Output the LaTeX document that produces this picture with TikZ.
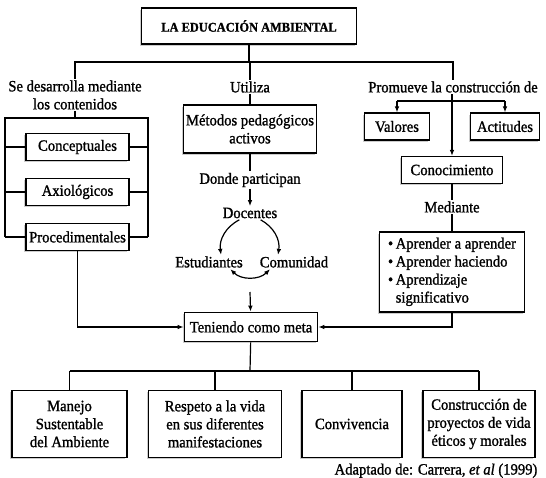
\documentclass[tikz,border=0pt]{standalone}
\usepackage{fontspec}
\setmainfont{Liberation Serif}[FakeStretch=0.93, FakeBold=1.2]
\usetikzlibrary{arrows.meta,positioning,shadows}

\begin{document}
\begin{tikzpicture}[x=0.75pt,y=-0.75pt,
  font=\fontsize{11.8}{13.5}\selectfont,
  box/.style={draw, line width=1.1pt, fill=white, align=center, inner sep=0pt,
    drop shadow={shadow xshift=-1.3pt, shadow yshift=-1.3pt, fill=black!40, opacity=0.5}},
  lbl/.style={align=center, inner sep=1pt},
  link/.style={line width=0.9pt},
  arr/.style={link, -{Latex[length=4.5pt,width=3.5pt]}}]
\useasboundingbox (0,0) rectangle (546,478);

% Title
\node[box, minimum width=161pt, minimum height=27pt, font=\fontsize{10}{11}\selectfont\bfseries] (title) at (249,26) {LA EDUCACIÓN AMBIENTAL};

% First level labels
\node[lbl] (desarrolla) at (75,95) {Se desarrolla mediante\\los contenidos};
\node[lbl] (utiliza) at (250,87) {Utiliza};
\node[lbl] (promueve) at (453,87) {Promueve la construcción de};
\coordinate (top) at (249,62);
\draw[link] (title) -- (top);
\draw[link] (desarrolla.north) |- (top) -| (promueve.north);
\draw[link] (utiliza) -- (utiliza.north |- top);

% Contents (left)
\node[box, minimum width=77pt, minimum height=20pt] (concep) at (77.5,147) {Conceptuales};
\node[box, minimum width=77pt, minimum height=20pt] (axio) at (77.5,192) {Axiológicos};
\node[box, minimum width=77pt, minimum height=20pt] (proc) at (77.5,237) {Procedimentales};
\coordinate (bl) at (5,118);
\coordinate (br) at (148,118);
\draw[link] (desarrolla.south) -- (desarrolla.south |- bl);
\draw[link] (proc.west -| bl) -- (bl) -- (br) -- (proc.east -| br);
\foreach \n in {concep,axio,proc} {
  \draw[link] (\n.west) -- (\n.west -| bl);
  \draw[link] (\n.east) -- (\n.east -| br);
}

% Methods (centre)
\node[box, minimum width=100pt, minimum height=36pt] (metodos) at (250,129) {Métodos pedagógicos\\activos};
\node[lbl] (donde) at (250,180) {Donde participan};
\node[lbl] (docentes) at (250,213) {Docentes};
\node[lbl] (estud) at (209,262) {Estudiantes};
\node[lbl] (comun) at (294,262) {Comunidad};
\coordinate (cyc) at (250,292);
\draw[link] (utiliza) -- (metodos);
\draw[link] (metodos) -- (donde);
\draw[arr] (donde) -- (docentes);
\draw[arr] ([xshift=-8pt]docentes.south) to[bend right=35] ([xshift=9pt]estud.north);
\draw[arr] ([xshift=8pt]docentes.south) to[bend left=35] ([xshift=-12pt]comun.north);
\draw[link, {Latex[length=4.5pt,width=3.5pt]}-{Latex[length=4.5pt,width=3.5pt]}]
  ([xshift=16pt]estud.south) to[bend right=45] ([xshift=-18pt]comun.south);

% Values (right)
\node[box, minimum width=49pt, minimum height=20pt] (valores) at (397,126.5) {Valores};
\node[box, minimum width=52pt, minimum height=20pt] (actitudes) at (505,126.5) {Actitudes};
\node[box, minimum width=76pt, minimum height=20pt] (conoc) at (452,170) {Conocimiento};
\node[lbl] (mediante) at (452,207) {Mediante};
\node[box, minimum width=109pt, minimum height=60pt] (aprender) at (452,272)
  {\begin{tabular}{@{}l@{\,}l@{}}
   \textbullet & Aprender a aprender\\
   \textbullet & Aprender haciendo\\
   \textbullet & Aprendizaje\\
               & significativo
   \end{tabular}};
\coordinate (pv) at (452,101);
\draw[link] (valores.north |- pv) -- (actitudes.north |- pv);
\draw[arr] (valores.north |- pv) -- (valores);
\draw[arr] (actitudes.north |- pv) -- (actitudes);
\draw[arr] (promueve.south -| conoc.north) -- (conoc);
\draw[link] (conoc) -- (mediante);
\draw[link] (mediante) -- (aprender);

% Goal
\node[box, minimum width=100pt, minimum height=22pt] (meta) at (251,327) {Teniendo como meta};
\draw[arr] (proc.south) |- (meta.west);
\draw[arr] (aprender.south) |- (meta.east);
\draw[arr] (cyc) -- (meta);

% Bottom boxes
\node[box, minimum width=86pt, minimum height=50pt] (b1) at (69.5,424) {Manejo\\Sustentable\\del Ambiente};
\node[box, minimum width=100pt, minimum height=50pt] (b2) at (215,424) {Respeto a la vida\\en sus diferentes\\manifestaciones};
\node[box, minimum width=75pt, minimum height=50pt] (b3) at (352,424) {Convivencia};
\node[box, minimum width=84pt, minimum height=50pt] (b4) at (479,424) {Construcción de\\proyectos de vida\\éticos y morales};
\coordinate (mb) at (250,371);
\draw[link] (meta) -- (mb);
\draw[link] (b1.north |- mb) -- (b4.north |- mb);
\foreach \n in {b1,b2,b3,b4}
  \draw[link] (\n.north |- mb) -- (\n.north);

% Source
\node[lbl, anchor=north] (fuente) at (436,462) {Adaptado de: Carrera, \textit{et al} (1999)};
\end{tikzpicture}
\end{document}
